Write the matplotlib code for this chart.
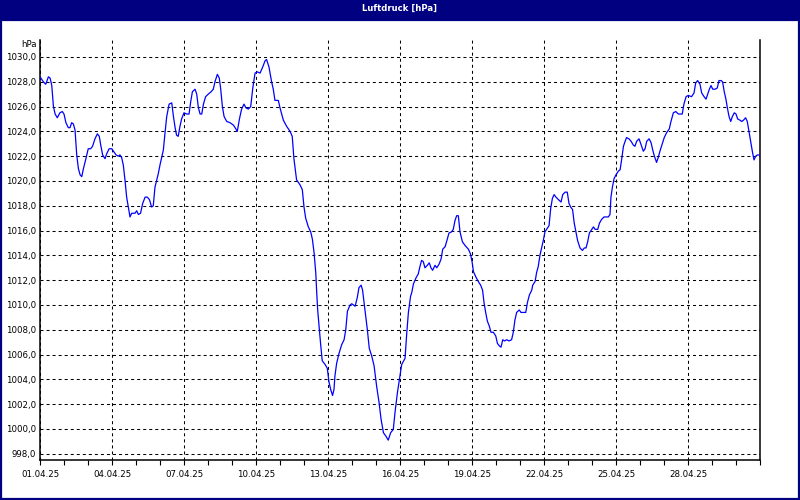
import matplotlib
matplotlib.use('Agg')
import matplotlib.pyplot as plt
from matplotlib.patches import Rectangle
from matplotlib.ticker import MultipleLocator, FuncFormatter

# ---- data: days since 01.04.25, pressure in hPa ----
days = [0.0, 0.14, 0.24, 0.35, 0.42, 0.49, 0.56, 0.63, 0.72, 0.83, 0.93, 1.0, 1.08, 1.18, 1.25,
        1.32, 1.39, 1.46, 1.53, 1.6, 1.67, 1.74, 1.81, 1.9, 2.01, 2.11, 2.19, 2.29, 2.39, 2.47,
        2.53, 2.61, 2.71, 2.78, 2.88, 2.99, 3.06, 3.17, 3.26, 3.33, 3.4, 3.47, 3.54, 3.61, 3.68,
        3.75, 3.82, 3.96, 4.03, 4.1, 4.19, 4.28, 4.38, 4.47, 4.56, 4.65, 4.72, 4.79, 4.93,
        5.0, 5.14, 5.21, 5.28, 5.38, 5.49, 5.56, 5.63, 5.69, 5.76, 5.83, 5.9, 6.0, 6.11, 6.21,
        6.28, 6.35, 6.46, 6.53, 6.6, 6.67, 6.74, 6.81, 6.9, 7.01, 7.13, 7.22, 7.29, 7.39, 7.47,
        7.53, 7.6, 7.67, 7.78, 7.92, 8.06, 8.13, 8.22, 8.31, 8.4, 8.5, 8.58, 8.68, 8.78, 8.86,
        8.96, 9.06, 9.17, 9.28, 9.38, 9.44, 9.54, 9.65, 9.72, 9.79, 9.93, 10.0,
        10.14, 10.28, 10.42, 10.51, 10.58, 10.69, 10.83, 10.93, 11.0, 11.07, 11.18, 11.28, 11.35,
        11.42, 11.49, 11.53, 11.57, 11.64, 11.69, 11.76, 11.88, 11.97, 12.04, 12.11, 12.19, 12.25,
        12.29, 12.36, 12.46, 12.57, 12.67, 12.74, 12.81, 12.92, 12.99, 13.13, 13.22, 13.29, 13.38,
        13.44, 13.54, 13.64, 13.72, 13.82, 13.92, 14.03, 14.13, 14.21, 14.31, 14.42, 14.51, 14.61,
        14.72, 14.79, 14.89, 15.0, 15.07, 15.21, 15.28, 15.35, 15.44,
        15.49, 15.56, 15.67, 15.76, 15.83, 15.9, 15.97, 16.04, 16.14, 16.22, 16.29, 16.36, 16.46,
        16.53, 16.63, 16.71, 16.78, 16.88, 16.94, 17.04, 17.15, 17.22, 17.29, 17.36, 17.43, 17.5,
        17.6, 17.71, 17.85, 17.94, 18.01, 18.06, 18.15, 18.26, 18.36, 18.44, 18.5, 18.57, 18.64,
        18.72, 18.79, 18.89, 18.99, 19.06, 19.14, 19.21, 19.28, 19.35, 19.45, 19.54, 19.65, 19.72,
        19.79, 19.86, 19.97, 20.04, 20.14, 20.24, 20.31, 20.39, 20.49,
        20.53, 20.63, 20.69, 20.76, 20.83, 20.9, 20.97, 21.04, 21.14, 21.21, 21.28, 21.35, 21.42,
        21.5, 21.6, 21.71, 21.78, 21.88, 21.97, 22.04, 22.11, 22.19, 22.26, 22.33, 22.4, 22.5,
        22.6, 22.68, 22.75, 22.82, 22.89, 22.99, 23.06, 23.13, 23.24, 23.31, 23.4, 23.5, 23.58,
        23.68, 23.75, 23.79, 23.85, 23.92, 24.0, 24.1, 24.17, 24.24, 24.31, 24.38, 24.44, 24.54,
        24.63, 24.72, 24.79, 24.86, 24.96,
        25.07, 25.14, 25.21, 25.28, 25.38, 25.46, 25.53, 25.6, 25.69, 25.76, 25.83, 25.93, 26.01,
        26.11, 26.22, 26.29, 26.39, 26.49, 26.6, 26.69, 26.76, 26.83, 26.92, 27.01, 27.15, 27.25,
        27.32, 27.4, 27.5, 27.57, 27.67, 27.75, 27.82, 27.89, 27.96, 28.03, 28.13, 28.22, 28.29,
        28.38, 28.44, 28.51, 28.58, 28.64, 28.71, 28.78, 28.85, 28.93, 29.0, 29.07, 29.17, 29.24,
        29.31, 29.4, 29.47, 29.54, 29.61, 29.68, 29.75, 29.82, 29.89, 29.96]

pressure = [1028.4, 1028.0, 1027.8, 1028.4, 1028.3, 1027.7, 1026.0, 1025.4, 1025.1, 1025.5, 1025.6,
            1025.4, 1024.7, 1024.3, 1024.3, 1024.7, 1024.6, 1024.1, 1022.1, 1021.0, 1020.5, 1020.35,
            1021.0, 1021.7, 1022.6, 1022.6, 1022.8, 1023.4, 1023.8, 1023.6, 1022.9, 1022.1, 1021.8,
            1022.2, 1022.6, 1022.6, 1022.4, 1022.1, 1022.0, 1022.1, 1021.9, 1021.3, 1020.1, 1018.7,
            1017.9, 1017.1, 1017.4, 1017.4, 1017.6, 1017.3, 1017.4, 1018.2, 1018.7, 1018.7, 1018.5,
            1017.9, 1018.0, 1019.5, 1020.6,
            1021.3, 1022.5, 1023.9, 1025.2, 1026.2, 1026.3, 1025.2, 1024.3, 1023.7, 1023.6, 1024.4,
            1025.0, 1025.5, 1025.4, 1025.4, 1026.4, 1027.2, 1027.4, 1027.0, 1025.9, 1025.4, 1025.4,
            1026.2, 1026.8, 1027.0, 1027.2, 1027.4, 1028.0, 1028.6, 1028.3, 1027.4, 1026.0, 1025.2,
            1024.8, 1024.7, 1024.5, 1024.3, 1024.0, 1025.0, 1025.8, 1026.2, 1025.9, 1025.8, 1026.0,
            1027.4, 1028.7, 1028.8, 1028.7, 1029.2, 1029.7, 1029.8, 1029.2, 1028.0, 1027.4, 1026.5,
            1026.5, 1025.9,
            1024.9, 1024.4, 1024.0, 1023.6, 1021.8, 1020.1, 1019.7, 1019.3, 1017.9, 1017.0, 1016.3,
            1015.9, 1015.3, 1014.2, 1012.6, 1011.0, 1009.6, 1008.0, 1006.9, 1005.5, 1005.2, 1004.9,
            1003.8, 1003.2, 1002.7, 1003.2, 1004.3, 1005.3, 1006.1, 1006.8, 1007.2, 1008.0, 1009.5,
            1010.0, 1010.1, 1009.9, 1010.6, 1011.4, 1011.6, 1011.2, 1009.6, 1008.0, 1006.5, 1005.9,
            1005.1, 1003.4, 1002.1, 1000.8, 999.7, 999.4, 999.1, 999.7, 999.96, 1001.3, 1002.9,
            1004.3, 1005.2, 1005.7, 1007.7, 1009.4, 1010.7,
            1011.0, 1011.7, 1012.2, 1012.5, 1013.1, 1013.6, 1013.5, 1013.0, 1013.2, 1013.4, 1013.0,
            1012.8, 1013.2, 1013.0, 1013.3, 1013.7, 1014.5, 1014.7, 1015.1, 1015.8, 1015.9, 1016.1,
            1016.8, 1017.2, 1017.2, 1015.9, 1015.1, 1014.8, 1014.5, 1014.1, 1013.4, 1012.7, 1012.3,
            1011.9, 1011.6, 1011.2, 1010.2, 1009.4, 1008.7, 1008.3, 1007.8, 1007.8, 1007.5, 1006.9,
            1006.7, 1006.6, 1007.2, 1007.1, 1007.2, 1007.1, 1007.2, 1007.8, 1008.8, 1009.4, 1009.6,
            1009.4, 1009.4, 1009.4, 1010.2, 1010.8, 1011.2,
            1011.6, 1011.9, 1012.6, 1013.1, 1014.0, 1014.6, 1015.2, 1015.9, 1016.2, 1016.4, 1017.8,
            1018.6, 1018.9, 1018.7, 1018.5, 1018.3, 1018.9, 1019.1, 1019.1, 1018.2, 1017.9, 1017.7,
            1016.6, 1015.9, 1015.2, 1014.6, 1014.4, 1014.6, 1014.6, 1015.1, 1015.8, 1016.1, 1016.3,
            1016.1, 1016.1, 1016.6, 1016.9, 1017.1, 1017.1, 1017.1, 1017.3, 1018.7, 1019.5, 1020.2,
            1020.5, 1020.8, 1020.9, 1021.8, 1022.8, 1023.2, 1023.5, 1023.4, 1023.2, 1022.9, 1022.8,
            1023.2, 1023.4,
            1022.8, 1022.4, 1022.6, 1023.2, 1023.4, 1023.1, 1022.5, 1022.0, 1021.5, 1021.9, 1022.4,
            1023.0, 1023.5, 1023.9, 1024.2, 1024.8, 1025.5, 1025.6, 1025.4, 1025.4, 1025.4, 1026.2,
            1026.8, 1026.9, 1026.8, 1027.1, 1027.9, 1028.1, 1027.8, 1027.1, 1026.8, 1026.6, 1027.0,
            1027.4, 1027.7, 1027.4, 1027.4, 1027.5, 1028.1, 1028.1, 1028.0, 1027.2, 1026.6, 1025.9,
            1025.2, 1024.8, 1025.2, 1025.5, 1025.4, 1025.0, 1024.9, 1024.8, 1024.9, 1025.1, 1024.8,
            1024.0, 1023.2, 1022.4, 1021.7, 1022.0, 1022.1, 1022.1]

tick_days = [0, 3, 6, 9, 12, 15, 18, 21, 24, 27]
tick_labels = ['01.04.25', '04.04.25', '07.04.25', '10.04.25', '13.04.25',
               '16.04.25', '19.04.25', '22.04.25', '25.04.25', '28.04.25']

navy = '#000080'
plt.rcParams['font.family'] = ['DejaVu Sans']

fig = plt.figure(figsize=(8, 5), dpi=100)
fig.patch.set_facecolor('white')

# title bar + window frame
fig.patches.append(Rectangle((0, 1 - 20 / 500), 1, 20 / 500, transform=fig.transFigure,
                             facecolor=navy, edgecolor='none', zorder=0))
fig.patches.append(Rectangle((0.0008, 0.002), 0.9984, 1 - 20 / 500 - 0.002, transform=fig.transFigure,
                             facecolor='none', edgecolor=navy, lw=1.6, zorder=0))
fig.text(0.5, 1 - 8.5 / 500, 'Luftdruck [hPa]', color='white', fontweight='bold',
         fontsize=6.1, ha='center', va='center')

ax = fig.add_axes([40 / 800, 40 / 500, 720 / 800, 420 / 500])
ax.plot(days, pressure, color='#0000ff', lw=0.9, zorder=3)

ax.set_xlim(0, 30)
ax.set_ylim(997.5, 1031.37)

ax.set_xticks(tick_days)
ax.set_xticklabels(tick_labels)
ax.xaxis.set_minor_locator(MultipleLocator(1))
ax.yaxis.set_major_locator(MultipleLocator(2))
ax.yaxis.set_major_formatter(FuncFormatter(lambda v, p: ('%.1f' % v).replace('.', ',')))

ax.tick_params(axis='x', which='both', direction='out', length=3.5, width=0.8, pad=4,
               labelsize=6.2, colors='black')
ax.tick_params(axis='y', which='both', length=0, pad=3, labelsize=6.2)

ax.grid(True, which='major', color='black', lw=0.75, linestyle=(0, (2.9, 2.9)))
ax.set_axisbelow(True)

ax.spines['top'].set_visible(False)
for s in ['left', 'bottom', 'right']:
    ax.spines[s].set_linewidth(1.1)
    ax.spines[s].set_color('black')

ax.text(-3 / 720, 1031.0, 'hPa', transform=ax.get_yaxis_transform(), ha='right', va='center',
        fontsize=6.2)

fig.savefig('out.png', dpi=100)
